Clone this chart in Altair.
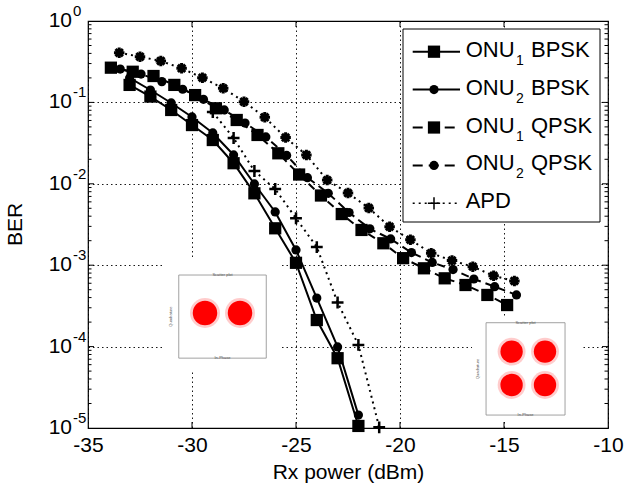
import altair as alt
import pandas as pd

F = "Liberation Sans"

# ---------------- data ----------------
bpsk_x = [-33, -32, -31, -30, -29, -28, -27, -26, -25, -24, -23, -22]
onu1_bpsk = [0.164, 0.118, 0.0807, 0.0527, 0.0345, 0.0179, 0.00764, 0.00284, 0.00107, 0.000212, 0.000072, 0.0000106]
onu2_bpsk = [0.1995, 0.142, 0.0984, 0.0662, 0.0421, 0.0226, 0.00995, 0.00451, 0.00154, 0.000395, 0.000099, 0.0000144]

onu1_qpsk_x = [-33.9, -32.85, -31.85, -30.85, -29.85, -28.85, -27.85, -26.85, -25.85, -24.85,
               -23.8, -22.8, -21.85, -20.8, -19.85, -18.85, -17.85, -16.85, -15.8, -14.85]
onu1_qpsk = [0.267, 0.238, 0.211, 0.164, 0.123, 0.0847, 0.0608, 0.0398, 0.0237, 0.0130,
             0.00718, 0.00425, 0.00271, 0.00186, 0.00122, 0.000916, 0.00069, 0.000571, 0.000431, 0.000324]

onu2_qpsk_x = [-33.45, -32.45, -31.45, -30.45, -29.45, -28.45, -27.45, -26.45, -25.45, -24.45,
               -23.45, -22.45, -21.45, -20.45, -19.45, -18.45, -17.45, -16.45, -15.45, -14.4]
onu2_qpsk = [0.257, 0.223, 0.180, 0.145, 0.109, 0.0807, 0.0558, 0.0376, 0.0223, 0.0119,
             0.00764, 0.00444, 0.0028, 0.0021, 0.00143, 0.00108, 0.000883, 0.000677, 0.000545, 0.000431]

apd_x = [-29, -28, -27, -26, -25, -24, -23, -22, -21]
apd = [0.076, 0.0365, 0.01436, 0.00863, 0.00377, 0.00167, 0.000348, 0.000105, 0.0000102]

apd_qpsk_x = [-33.5, -32.5, -31.5, -30.5, -29.5, -28.5, -27.5, -26.5, -25.5, -24.5,
              -23.5, -22.5, -21.5, -20.5, -19.5, -18.5, -17.5, -16.5, -15.5, -14.5]
apd_qpsk = [0.408, 0.364, 0.323, 0.262, 0.201, 0.149, 0.102, 0.0656, 0.037, 0.0226,
            0.0111, 0.0077, 0.00504, 0.00297, 0.00206, 0.0014, 0.00114, 0.00096, 0.00074, 0.00064]

x_ticks = [-35, -30, -25, -20, -15, -10]
y_exps = [0, -1, -2, -3, -4, -5]

legend_base = ["ONU", "ONU", "ONU", "ONU", "APD"]
legend_sub = ["1", "2", "1", "2", ""]
legend_suffix = ["BPSK", "BPSK", "QPSK", "QPSK", ""]

bpsk_centers_i = [-1, 1]
bpsk_centers_q = [0, 0]
qpsk_centers_i = [-1, 1, -1, 1]
qpsk_centers_q = [1, 1, -1, -1]

# ---------------- tables ----------------
rows = []
for name, xs, ys in [("ONU1 BPSK", bpsk_x, onu1_bpsk), ("ONU2 BPSK", bpsk_x, onu2_bpsk),
                     ("ONU1 QPSK", onu1_qpsk_x, onu1_qpsk), ("ONU2 QPSK", onu2_qpsk_x, onu2_qpsk),
                     ("APD", apd_x, apd), ("APD QPSK", apd_qpsk_x, apd_qpsk)]:
    for a, b in zip(xs, ys):
        rows.append({"series": name, "x": a, "y": b})
df = pd.DataFrame(rows)

sx = alt.Scale(domain=[-35, -10], nice=False, zero=False)
sy = alt.Scale(type="log", domain=[1e-5, 1], nice=False)

PLUS = "M-1,0L1,0M0,-1L0,1"
STAR = "M-1,0L1,0M0,-1L0,1M-0.7,-0.7L0.7,0.7M-0.7,0.7L0.7,-0.7"


def sel(names):
    return alt.FieldOneOfPredicate(field="series", oneOf=names)


X = alt.X("x:Q", scale=sx, axis=None)
Y = alt.Y("y:Q", scale=sy, axis=None)

x_axis = alt.Axis(values=x_ticks, labelExpr="'' + datum.value", labelFontSize=21, labelColor="black",
                  labelPadding=6, labelFlush=False, labelOverlap=False, domain=False, ticks=False,
                  tickSize=0, grid=True, gridColor="black", gridDash=[1.5, 3], gridWidth=1, gridOpacity=0.9,
                  title="Rx power (dBm)", titleFontSize=21, titleFontWeight="normal", titleColor="black",
                  titleY=50, titleBaseline="alphabetic", orient="bottom")
y_axis = alt.Axis(values=[10.0 ** e for e in y_exps], labels=False, ticks=False, tickSize=0, domain=False,
                  grid=True, gridColor="black", gridDash=[1.5, 3], gridWidth=1, gridOpacity=0.9, title=None,
                  orient="left")

layers = []
base = alt.Chart(df)
layers.append(base.transform_filter(sel(["ONU1 BPSK", "ONU2 BPSK"])).mark_line(
    color="black", strokeWidth=2).encode(
    x=alt.X("x:Q", scale=sx, axis=x_axis), y=alt.Y("y:Q", scale=sy, axis=y_axis), detail="series:N"))
layers.append(base.transform_filter(sel(["ONU1 QPSK", "ONU2 QPSK"])).mark_line(
    color="black", strokeWidth=2, strokeDash=[8, 5]).encode(x=X, y=Y, detail="series:N"))
layers.append(base.transform_filter(sel(["APD", "APD QPSK"])).mark_line(
    color="black", strokeWidth=2, strokeDash=[2, 4]).encode(x=X, y=Y, detail="series:N"))

layers.append(base.transform_filter(sel(["ONU1 BPSK", "ONU1 QPSK"])).mark_point(
    shape="square", filled=True, color="black", size=150, opacity=1).encode(x=X, y=Y))
layers.append(base.transform_filter(sel(["ONU2 BPSK", "ONU2 QPSK"])).mark_point(
    shape="circle", filled=True, color="black", size=85, opacity=1).encode(x=X, y=Y))
layers.append(base.transform_filter(sel(["APD"])).mark_point(
    shape=PLUS, filled=False, color="black", strokeWidth=2.5, size=140, opacity=1).encode(x=X, y=Y))
layers.append(base.transform_filter(sel(["APD QPSK"])).mark_point(
    shape=STAR, filled=False, color="black", strokeWidth=3, size=110, opacity=1).encode(x=X, y=Y))

ylab = pd.DataFrame({"v": [10.0 ** e for e in y_exps], "e": [str(e) for e in y_exps]})
layers.append(alt.Chart(ylab).mark_text(align="right", baseline="middle", fontSize=21, font=F,
                                        color="black").encode(
    x=alt.value(-16), y=alt.Y("v:Q", scale=sy, axis=None), text=alt.value("10")))
layers.append(alt.Chart(ylab).mark_text(align="left", baseline="middle", fontSize=15, font=F, color="black",
                                        dx=1, dy=-10).encode(
    x=alt.value(-16), y=alt.Y("v:Q", scale=sy, axis=None), text="e:N"))
one = pd.DataFrame({"a": [0]})
layers.append(alt.Chart(one).mark_text(angle=270, align="center", baseline="middle", fontSize=21, font=F,
                                       color="black").encode(
    x=alt.value(-72), y=alt.value(203.5), text=alt.value("BER")))


# ---------------- insets (constellations) ----------------
def inset(ci, cq, xr, yr, frame, bg, core, halo):
    isx = alt.Scale(domain=[-3, 3], range=xr, nice=False, zero=False)
    isy = alt.Scale(domain=[-3, 3], range=yr, nice=False, zero=False)
    IX = alt.X("i:Q", scale=isx, axis=None)
    IY = alt.Y("q:Q", scale=isy, axis=None)
    box = pd.DataFrame({"i": [bg[0]], "i2": [bg[1]], "q": [bg[2]], "q2": [bg[3]]})
    fr = pd.DataFrame({"i": [frame[0]], "i2": [frame[1]], "q": [frame[2]], "q2": [frame[3]]})
    cl = pd.DataFrame({"i": ci, "q": cq})
    out = [
        alt.Chart(box).mark_rect(fill="white").encode(x=IX, x2="i2:Q", y=IY, y2="q2:Q"),
        alt.Chart(fr).mark_rect(fill="white", stroke="#8a8a8a", strokeWidth=0.8).encode(
            x=IX, x2="i2:Q", y=IY, y2="q2:Q"),
        alt.Chart(cl).mark_circle(color="#ff0000", size=halo, opacity=0.2).encode(x=IX, y=IY),
        alt.Chart(cl).mark_circle(color="#ff0000", size=core, opacity=1).encode(x=IX, y=IY),
    ]
    mid = (frame[0] + frame[1]) / 2
    tt = pd.DataFrame({"i": [mid, mid], "q": [frame[3], frame[2]], "t": ["Scatter plot", "In-Phase"],
                       "o": [-3, 8]})
    out.append(alt.Chart(tt).mark_text(fontSize=4, font=F, color="#555").encode(
        x=IX, y=IY, text="t:N", yOffset="o:Q"))
    qt = pd.DataFrame({"i": [frame[0]], "q": [(frame[2] + frame[3]) / 2]})
    out.append(alt.Chart(qt).mark_text(fontSize=4, font=F, color="#555", angle=270, xOffset=-8).encode(
        x=IX, y=IY, text=alt.value("Quadrature")))
    return out


layers += inset(bpsk_centers_i, bpsk_centers_q, [82, 187], [344.5, 239.5],
                [-2.5, 2.5, -2.58, 2.17], [-3.3, 3.4, -3.37, 3.14], 600, 900)
layers += inset(qpsk_centers_i, qpsk_centers_q, [390.2, 490.4], [397.4, 297.2],
                [-2.53, 2.2, -2.8, 2.73], [-3.37, 3.22, -3.04, 3.13], 500, 780)

# ---------------- inside ticks (MATLAB style) ----------------
minor_vals = [m * 10.0 ** e for e in range(-5, 0) for m in range(2, 10)]
tick_x = pd.DataFrame({"x": x_ticks[1:-1]})
tick_y = pd.DataFrame({"y": [10.0 ** e for e in y_exps[1:-1]]})
tick_m = pd.DataFrame({"y": minor_vals})
for y1, y2 in [(407, 401), (0, 6)]:
    layers.append(alt.Chart(tick_x).mark_rule(color="black", strokeWidth=1).encode(
        x=X, y=alt.value(y1), y2=alt.value(y2)))
for x1, x2, dat in [(0, 6, tick_y), (520, 514, tick_y), (0, 3.5, tick_m), (520, 516.5, tick_m)]:
    layers.append(alt.Chart(dat).mark_rule(color="black", strokeWidth=1).encode(
        y=Y, x=alt.value(x1), x2=alt.value(x2)))

# ---------------- legend ----------------
leg = pd.DataFrame({"row": list(range(5)), "base": legend_base, "sub": legend_sub, "suffix": legend_suffix})
ly = alt.Scale(domain=[0, 4], range=[30.7, 182.3], nice=False, zero=False)
LY = alt.Y("row:Q", scale=ly, axis=None)
layers.append(alt.Chart(one).mark_rect(fill="white", stroke="black", strokeWidth=1).encode(
    x=alt.value(315), x2=alt.value(512), y=alt.value(8), y2=alt.value(201)))
dashes = [None, None, [10, 6], [10, 6], [2, 4]]
for r, d in enumerate(dashes):
    kw = dict(color="black", strokeWidth=2 if r < 4 else 1.5)
    if d is not None:
        kw["strokeDash"] = d
    layers.append(alt.Chart(leg).transform_filter(alt.datum.row == r).mark_rule(**kw).encode(
        x=alt.value(324.7), x2=alt.value(372), y=LY))
mk = [("square", True, 150, 0), ("circle", True, 85, 0), ("square", True, 150, 0), ("circle", True, 85, 0),
      (PLUS, False, 150, 1.5)]
for r, (shp, fil, sz, sw) in enumerate(mk):
    kw = dict(shape=shp, filled=fil, color="black", size=sz, opacity=1)
    if sw:
        kw["strokeWidth"] = sw
    layers.append(alt.Chart(leg).transform_filter(alt.datum.row == r).mark_point(**kw).encode(
        x=alt.value(346), y=LY))
layers.append(alt.Chart(leg).mark_text(align="left", baseline="middle", fontSize=22, font=F,
                                       color="black", dy=-2).encode(
    x=alt.value(377.7), y=LY, text="base:N"))
layers.append(alt.Chart(leg).mark_text(align="left", baseline="middle", fontSize=14, font=F,
                                       color="black", dy=9).encode(
    x=alt.value(428), y=LY, text="sub:N"))
layers.append(alt.Chart(leg).mark_text(align="left", baseline="middle", fontSize=22, font=F,
                                       color="black", dy=-2).encode(
    x=alt.value(443), y=LY, text="suffix:N"))

chart = alt.layer(*layers).resolve_scale(
    x="independent", y="independent").properties(
    width=520, height=407, autosize=alt.AutoSizeParams(type="none"),
    padding={"left": 88, "top": 21, "right": 31, "bottom": 57}, background="white"
).configure_view(stroke="black", strokeWidth=1.2).configure_axis(labelFont=F, titleFont=F)

chart.save("out.html", embed_options={"renderer": "svg", "actions": False})
